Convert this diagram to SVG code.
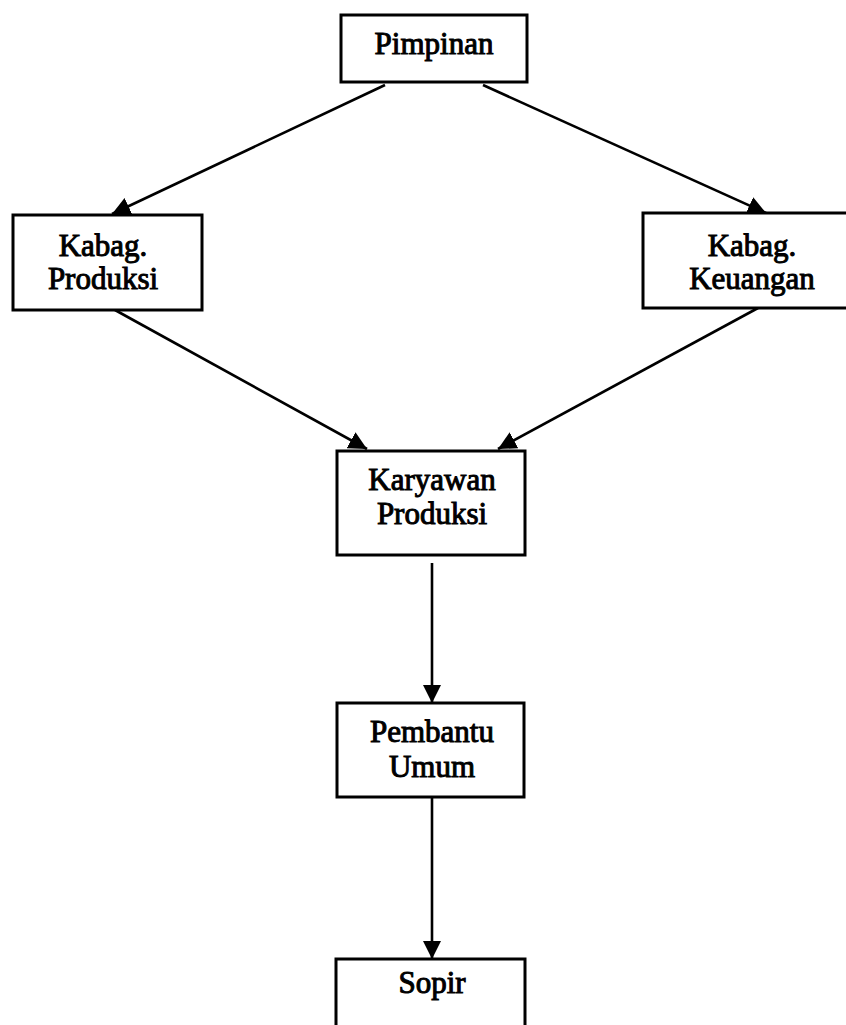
<svg xmlns="http://www.w3.org/2000/svg" width="846" height="1025" viewBox="0 0 846 1025">
<style>
.box{fill:#fff;stroke:#000;stroke-width:3}
.t{font-family:"Liberation Serif","Times New Roman",serif;font-size:31px;fill:#000;stroke:#000;stroke-width:1;text-anchor:middle}
.c{stroke:#000;stroke-width:2.6;fill:none;marker-end:url(#ah)}
</style>
<defs>
<marker id="ah" viewBox="0 0 10 10" refX="10" refY="5" markerWidth="7" markerHeight="7" markerUnits="strokeWidth" orient="auto">
<path d="M0,0 L10,5 L0,10 z" fill="#000"/>
</marker>
</defs>
<rect width="846" height="1025" fill="#fff"/>
<g id="connectors">
<line class="c" x1="385" y1="85" x2="112" y2="214"/>
<line class="c" x1="483" y1="85" x2="766" y2="213"/>
<line class="c" x1="115" y1="310" x2="367" y2="449"/>
<line class="c" x1="758" y1="308" x2="498" y2="449"/>
<line class="c" x1="432" y1="563" x2="432" y2="703"/>
<line class="c" x1="432" y1="797" x2="432" y2="959"/>
</g>
<g id="pimpinan">
<rect class="box" x="341" y="15" width="186" height="67"/>
<text class="t" x="434" y="54">Pimpinan</text>
</g>
<g id="kabag-produksi">
<rect class="box" x="13" y="215" width="189" height="95"/>
<text class="t" x="103" y="256">Kabag.</text>
<text class="t" x="103" y="289">Produksi</text>
</g>
<g id="kabag-keuangan">
<rect class="box" x="643" y="213" width="210" height="95"/>
<text class="t" x="752" y="256">Kabag.</text>
<text class="t" x="752" y="289">Keuangan</text>
</g>
<g id="karyawan-produksi">
<rect class="box" x="337" y="451" width="188" height="104"/>
<text class="t" x="432" y="490">Karyawan</text>
<text class="t" x="432" y="524">Produksi</text>
</g>
<g id="pembantu-umum">
<rect class="box" x="337" y="703" width="187" height="94"/>
<text class="t" x="432" y="742">Pembantu</text>
<text class="t" x="432" y="777">Umum</text>
</g>
<g id="sopir">
<rect class="box" x="336" y="959" width="189" height="80"/>
<text class="t" x="432" y="993">Sopir</text>
</g>
</svg>
